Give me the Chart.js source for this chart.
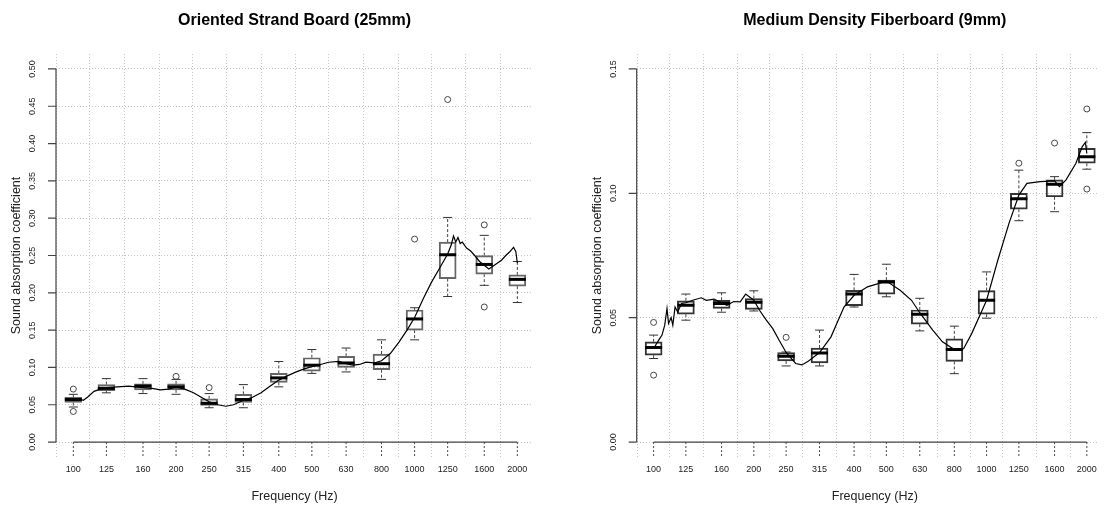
<!DOCTYPE html>
<html>
<head>
<meta charset="utf-8">
<script src="https://cdn.jsdelivr.net/npm/chart.js@4/dist/chart.umd.min.js"></script>
<style>
  html, body { margin: 0; padding: 0; background: #fff; }
  #wrap { position: relative; width: 1110px; height: 507px; overflow: hidden; }
  canvas { position: absolute; top: 0; }
</style>
</head>
<body>
<div id="wrap">
  <canvas id="osbChart" width="555" height="507" style="left:0"></canvas>
  <canvas id="mdfChart" width="555" height="507" style="left:555px"></canvas>
</div>
<script>
// Frequency bands (Hz)
const freqs = [100, 125, 160, 200, 250, 315, 400, 500, 630, 800, 1000, 1250, 1600, 2000];

// Oriented Strand Board (25mm) - box stats per band
const osbLow  = [0.047, 0.066, 0.065, 0.064, 0.046, 0.046, 0.074, 0.092, 0.094, 0.084, 0.137, 0.195, 0.210, 0.187];
const osbQ1   = [0.053, 0.069, 0.070, 0.070, 0.049, 0.053, 0.080, 0.095, 0.100, 0.097, 0.150, 0.219, 0.225, 0.209];
const osbMed  = [0.057, 0.072, 0.075, 0.074, 0.052, 0.057, 0.086, 0.103, 0.106, 0.105, 0.165, 0.251, 0.238, 0.218];
const osbQ3   = [0.060, 0.077, 0.078, 0.078, 0.058, 0.064, 0.092, 0.113, 0.115, 0.118, 0.177, 0.268, 0.250, 0.224];
const osbHigh = [0.064, 0.085, 0.085, 0.084, 0.065, 0.077, 0.108, 0.124, 0.126, 0.137, 0.180, 0.301, 0.277, 0.242];
const osbOutFreq = [100, 100, 200, 250, 1000, 1250, 1600, 1600];
const osbOutVal  = [0.071, 0.041, 0.088, 0.073, 0.272, 0.459, 0.291, 0.181];

// OSB measured curve
const osbCurveFreq = [100, 104, 107, 110, 115, 120, 125, 135, 145, 160, 170, 180, 190, 200, 212, 225, 237, 250, 265, 280,
  295, 315, 335, 355, 375, 400, 425, 450, 475, 500, 530, 560, 600, 630, 660, 690, 720, 760, 800, 850,
  900, 950, 1000, 1060, 1120, 1180, 1250, 1280, 1300, 1320, 1340, 1360, 1380, 1420, 1460, 1500, 1550, 1600, 1650, 1700,
  1750, 1800, 1850, 1900, 1950, 1980, 2000];
const osbCurveVal = [0.057, 0.058, 0.056, 0.060, 0.068, 0.071, 0.073, 0.074, 0.075, 0.073, 0.072, 0.070, 0.071, 0.074, 0.071, 0.066, 0.060, 0.054, 0.050, 0.048,
  0.050, 0.056, 0.060, 0.066, 0.074, 0.083, 0.089, 0.094, 0.098, 0.101, 0.104, 0.107, 0.108, 0.105, 0.103, 0.104, 0.107, 0.106, 0.109, 0.119,
  0.134, 0.150, 0.167, 0.192, 0.214, 0.232, 0.252, 0.264, 0.276, 0.268, 0.274, 0.266, 0.268, 0.260, 0.256, 0.250, 0.242, 0.237, 0.232, 0.236,
  0.240, 0.244, 0.250, 0.255, 0.261, 0.255, 0.240];

// Medium Density Fiberboard (9mm) - box stats per band
const mdfLow  = [0.0336, 0.0490, 0.0522, 0.0527, 0.0306, 0.0306, 0.0543, 0.0584, 0.0447, 0.0275, 0.0498, 0.0890, 0.0926, 0.1097];
const mdfQ1   = [0.0349, 0.0514, 0.0537, 0.0533, 0.0326, 0.0318, 0.0548, 0.0595, 0.0474, 0.0324, 0.0514, 0.0936, 0.0986, 0.1121];
const mdfMed  = [0.0380, 0.0550, 0.0557, 0.0562, 0.0345, 0.0358, 0.0595, 0.0643, 0.0514, 0.0372, 0.0570, 0.0978, 0.1036, 0.1147];
const mdfQ3   = [0.0403, 0.0568, 0.0570, 0.0577, 0.0360, 0.0378, 0.0610, 0.0651, 0.0531, 0.0415, 0.0609, 0.1000, 0.1054, 0.1181];
const mdfHigh = [0.0430, 0.0595, 0.0600, 0.0608, 0.0362, 0.0450, 0.0674, 0.0715, 0.0578, 0.0466, 0.0684, 0.1093, 0.1067, 0.1244];
const mdfOutFreq = [100, 100, 250, 1250, 1600, 2000, 2000];
const mdfOutVal  = [0.0481, 0.0269, 0.0421, 0.1121, 0.1202, 0.1339, 0.1017];

// MDF measured curve
const mdfCurveFreq = [100, 103.6, 106, 108, 109.7, 110.9, 112.9, 114.2, 116, 118.1, 121.4, 125, 131, 139, 144, 152, 160, 166, 174, 182,
  189, 200, 208, 218, 228, 238, 250, 267, 279, 292, 315, 341, 373, 400, 439, 500, 550, 595, 630, 689,
  737, 800, 853, 902, 1000, 1080, 1168, 1250, 1322, 1447, 1600, 1655, 1732, 1853, 1938, 1980, 2000];
const mdfCurveVal = [0.0376, 0.041, 0.043, 0.047, 0.0537, 0.0477, 0.050, 0.047, 0.0543, 0.0523, 0.0557, 0.056, 0.057, 0.058, 0.057, 0.0575, 0.056, 0.055, 0.0565, 0.0564,
  0.0595, 0.057, 0.053, 0.049, 0.0456, 0.041, 0.036, 0.0316, 0.031, 0.0326, 0.036, 0.0423, 0.0543, 0.059, 0.0624, 0.0647, 0.061, 0.057, 0.052, 0.045,
  0.0403, 0.0372, 0.0375, 0.0436, 0.057, 0.073, 0.088, 0.0993, 0.104, 0.1047, 0.105, 0.1027, 0.1054, 0.112, 0.1188, 0.1205, 0.116];

// y ticks
const osbYTicks = [0, 0.05, 0.10, 0.15, 0.20, 0.25, 0.30, 0.35, 0.40, 0.45, 0.50];
const mdfYTicks = [0, 0.05, 0.10, 0.15];

const FONT = "'Liberation Sans', Arial, sans-serif";

// axes, tick labels and titles drawn R-style
const rAxes = {
    id: 'rAxes',
    afterDraw(chart, args, opts) {
        const { ctx, chartArea, scales: { x, y } } = chart;
        const y0 = y.getPixelForValue(0);
        const yTop = y.getPixelForValue(opts.yTicks[opts.yTicks.length - 1]);
        const xL = x.getPixelForValue(freqs[0]);
        const xR = x.getPixelForValue(freqs[freqs.length - 1]);
        ctx.save();
        ctx.strokeStyle = '#444';
        ctx.lineWidth = 1.2;
        // y axis
        ctx.beginPath();
        ctx.moveTo(chartArea.left, y0);
        ctx.lineTo(chartArea.left, yTop);
        opts.yTicks.forEach(v => {
            const py = y.getPixelForValue(v);
            ctx.moveTo(chartArea.left, py);
            ctx.lineTo(chartArea.left - 8, py);
        });
        // x axis
        ctx.moveTo(xL, y0);
        ctx.lineTo(xR, y0);
        ctx.stroke();
        ctx.setLineDash([2, 2]);
        ctx.lineWidth = 1;
        ctx.beginPath();
        freqs.forEach(f => {
            const px = x.getPixelForValue(f);
            ctx.moveTo(px, y0);
            ctx.lineTo(px, chartArea.bottom);
        });
        ctx.stroke();
        ctx.setLineDash([]);

        ctx.fillStyle = '#222';
        ctx.font = `9px ${FONT}`;
        ctx.textAlign = 'center';
        ctx.textBaseline = 'middle';
        freqs.forEach(f => ctx.fillText(String(f), x.getPixelForValue(f), y0 + 27));
        opts.yTicks.forEach(v => {
            ctx.save();
            ctx.translate(chartArea.left - 23, y.getPixelForValue(v));
            ctx.rotate(-Math.PI / 2);
            ctx.fillText(v.toFixed(2), 0, 0);
            ctx.restore();
        });

        const cx = (chartArea.left + opts.titleRight) / 2;
        ctx.font = `bold 16px ${FONT}`;
        ctx.fillStyle = '#000';
        ctx.fillText(opts.title, cx, 21);

        ctx.font = `12.5px ${FONT}`;
        ctx.fillStyle = '#222';
        ctx.fillText('Frequency (Hz)', cx, 497);
        ctx.save();
        ctx.translate(chartArea.left - 39, (chartArea.top + chartArea.bottom) / 2);
        ctx.rotate(-Math.PI / 2);
        ctx.fillText('Sound absorption coefficient', 0, 0);
        ctx.restore();
        ctx.restore();
    }
};

function boxDatasets(low, q1, med, q3, high, outF, outV, curveF, curveV, boxColor) {
    const whisk = [];
    freqs.forEach((f, i) => {
        whisk.push({ x: f, y: q3[i] }, { x: f, y: high[i] }, { x: f, y: null });
        whisk.push({ x: f, y: q1[i] }, { x: f, y: low[i] }, { x: f, y: null });
    });
    return [
        {
            type: 'line', order: 0,
            data: curveF.map((f, i) => ({ x: f, y: curveV[i] })),
            borderColor: '#000', borderWidth: 1.2, pointRadius: 0, tension: 0
        },
        {
            type: 'scatter', order: 1,
            data: freqs.map((f, i) => ({ x: f, y: med[i] })),
            pointStyle: 'line', radius: 8.5, borderWidth: 3, borderColor: '#000'
        },
        {
            type: 'scatter', order: 2,
            data: freqs.flatMap((f, i) => [{ x: f, y: low[i] }, { x: f, y: high[i] }]),
            pointStyle: 'line', radius: 4.5, borderWidth: 1, borderColor: '#333'
        },
        {
            type: 'scatter', order: 2,
            data: outF.map((f, i) => ({ x: f, y: outV[i] })),
            pointStyle: 'circle', radius: 3, borderWidth: 0.9,
            borderColor: '#333', backgroundColor: 'rgba(0,0,0,0)'
        },
        {
            type: 'bar', order: 3,
            data: freqs.map((f, i) => ({ x: f, y: [q1[i], q3[i]] })),
            barThickness: 17, borderSkipped: false, borderWidth: 1.3,
            borderColor: boxColor, backgroundColor: 'rgba(0,0,0,0)'
        },
        {
            type: 'line', order: 4,
            data: whisk, spanGaps: false,
            borderColor: '#444', borderWidth: 1, borderDash: [3, 2], pointRadius: 0
        }
    ];
}

function makeChart(id, cfg) {
    return new Chart(document.getElementById(id), {
        type: 'bar',
        data: { datasets: cfg.datasets },
        options: {
            responsive: false,
            animation: false,
            devicePixelRatio: 1,
            events: [],
            layout: { padding: cfg.padding },
            plugins: {
                legend: { display: false },
                tooltip: { enabled: false },
                rAxes: { yTicks: cfg.yTicks, title: cfg.title, titleRight: cfg.titleRight }
            },
            scales: {
                x: {
                    type: 'logarithmic', min: cfg.xMin, max: cfg.xMax, offset: false,
                    afterBuildTicks: s => { s.ticks = freqs.map(v => ({ value: v })); },
                    afterFit: s => { s.height = 0; },
                    ticks: { display: false },
                    grid: { color: '#c4c4c4', lineWidth: 1, drawTicks: false },
                    border: { display: false, dash: [1, 2] }
                },
                y: {
                    type: 'linear', min: cfg.yMin, max: cfg.yMax,
                    afterBuildTicks: s => { s.ticks = cfg.yTicks.map(v => ({ value: v })); },
                    afterFit: s => { s.width = 0; },
                    ticks: { display: false },
                    grid: { color: '#c4c4c4', lineWidth: 1, drawTicks: false },
                    border: { display: false, dash: [1, 2] }
                }
            }
        },
        plugins: [rAxes]
    });
}

makeChart('osbChart', {
    datasets: boxDatasets(osbLow, osbQ1, osbMed, osbQ3, osbHigh, osbOutFreq, osbOutVal, osbCurveFreq, osbCurveVal, '#666'),
    yTicks: osbYTicks, yMin: -0.02, yMax: 0.52,
    xMin: 88.97, xMax: 2223,
    padding: { left: 56, right: 22, top: 54, bottom: 50 },
    title: 'Oriented Strand Board (25mm)', titleRight: 533
});

makeChart('mdfChart', {
    datasets: boxDatasets(mdfLow, mdfQ1, mdfMed, mdfQ3, mdfHigh, mdfOutFreq, mdfOutVal, mdfCurveFreq, mdfCurveVal, '#333'),
    yTicks: mdfYTicks, yMin: -0.006, yMax: 0.156,
    xMin: 88.97, xMax: 2168,
    padding: { left: 81.7, right: 0, top: 54, bottom: 50 },
    title: 'Medium Density Fiberboard (9mm)', titleRight: 558
});
</script>
</body>
</html>
